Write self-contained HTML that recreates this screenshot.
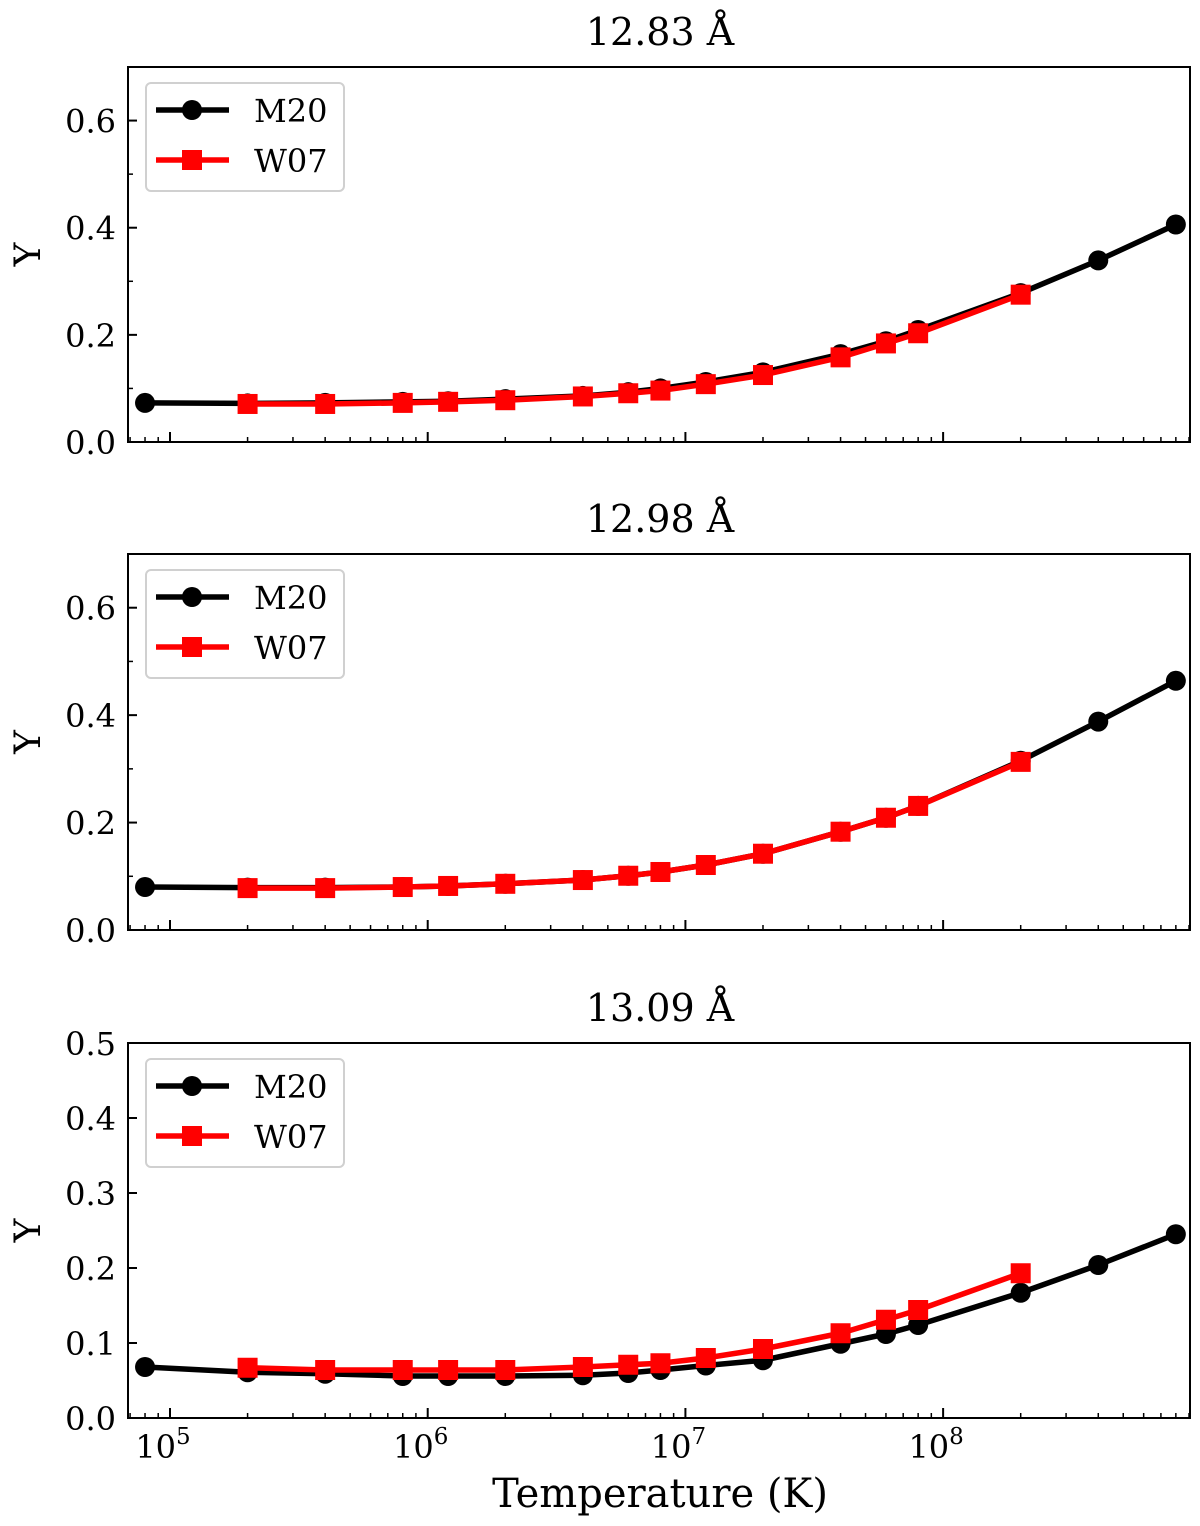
<!DOCTYPE html>
<html><head><meta charset="utf-8"><style>
html,body{margin:0;padding:0;background:#fff;}
svg{display:block;font-family:"DejaVu Serif","Liberation Serif",serif;}
</style></head><body>
<svg id="chart" width="1200" height="1526" viewBox="0 0 1200 1526" xmlns="http://www.w3.org/2000/svg"></svg>
<script>
const tempM20 = [8e4,2e5,4e5,8e5,1.2e6,2e6,4e6,6e6,8e6,1.2e7,2e7,4e7,6e7,8e7,2e8,4e8,8e8];
const tempW07 = [2e5,4e5,8e5,1.2e6,2e6,4e6,6e6,8e6,1.2e7,2e7,4e7,6e7,8e7,2e8];
const titles = ["12.83 Å","12.98 Å","13.09 Å"];
const m20_p1 = [0.073,0.072,0.073,0.075,0.076,0.080,0.086,0.093,0.100,0.112,0.130,0.164,0.188,0.209,0.278,0.339,0.406];
const w07_p1 = [0.071,0.071,0.073,0.075,0.078,0.085,0.091,0.096,0.108,0.125,0.158,0.184,0.203,0.275];
const m20_p2 = [0.080,0.079,0.079,0.080,0.082,0.086,0.093,0.101,0.108,0.121,0.142,0.183,0.209,0.231,0.315,0.388,0.464];
const w07_p2 = [0.078,0.078,0.080,0.082,0.086,0.093,0.101,0.108,0.121,0.142,0.183,0.209,0.231,0.313];
const m20_p3 = [0.068,0.061,0.059,0.056,0.056,0.056,0.057,0.060,0.064,0.070,0.077,0.099,0.112,0.124,0.167,0.204,0.245];
const w07_p3 = [0.067,0.064,0.064,0.064,0.064,0.068,0.071,0.073,0.080,0.092,0.113,0.131,0.144,0.193];
const yTicks1 = [0,0.2,0.4,0.6];
const yTicks3 = [0,0.1,0.2,0.3,0.4,0.5];
const xTickExp = [5,6,7,8];

const NS="http://www.w3.org/2000/svg";
const svg=document.getElementById('chart');
function mk(tag,attrs,parent){const e=document.createElementNS(NS,tag);for(const k in attrs)e.setAttribute(k,attrs[k]);(parent||svg).appendChild(e);return e;}
const L=128,R=1190;
const xMin=4.837,xMax=8.958;
function X(v){return L+(Math.log10(v)-xMin)/(xMax-xMin)*(R-L);}
const panels=[
 {top:67,bot:442,ymax:0.7,ticks:yTicks1,minor:[0.1,0.3,0.5],m:m20_p1,w:w07_p1},
 {top:554,bot:930,ymax:0.7,ticks:yTicks1,minor:[0.1,0.3,0.5],m:m20_p2,w:w07_p2},
 {top:1043,bot:1418,ymax:0.5,ticks:yTicks3,minor:[],m:m20_p3,w:w07_p3}
];
panels.forEach((p,i)=>{
 const g=mk('g',{});
 
 
 const Y=v=>p.bot-v/p.ymax*(p.bot-p.top);
 const t=mk('text',{x:660,y:p.top-22,'font-size':38,'text-anchor':'middle'},g);t.textContent=titles[i];
 
 
 p.ticks.forEach(v=>{
  mk('line',{x1:L,x2:L+9,y1:Y(v),y2:Y(v),stroke:'#000','stroke-width':2},g);
  const tl=mk('text',{x:L-12,y:Y(v)+12,'font-size':32,'text-anchor':'end'},g);tl.textContent=v.toFixed(1);
  
  
 });
 p.minor.forEach(v=>mk('line',{x1:L,x2:L+5,y1:Y(v),y2:Y(v),stroke:'#000','stroke-width':1.5},g));
 for(let e=4;e<=8;e++)for(let k=1;k<10;k++){const v=k*Math.pow(10,e);const lv=Math.log10(v);if(lv<xMin||lv>xMax)continue;
  const len=k===1?10:5;mk('line',{x1:X(v),x2:X(v),y1:p.bot,y2:p.bot-len,stroke:'#000','stroke-width':k===1?2:1.5},g);}
 const yl=mk('text',{x:0,y:0,'font-size':36,'text-anchor':'middle',transform:`translate(40,${(p.top+p.bot)/2}) rotate(-90)`},g);yl.textContent='Y';
 
 
 const ptsM=tempM20.map((t,j)=>X(t)+','+Y(p.m[j])).join(' ');
 const lm=mk('polyline',{points:ptsM,fill:'none',stroke:'#000','stroke-width':5.5,'stroke-linejoin':'round'},g);
 
 
 tempM20.forEach((t,j)=>{const c=mk('circle',{cx:X(t),cy:Y(p.m[j]),r:10,fill:'#000'},g);
  
  });
 const ptsW=tempW07.map((t,j)=>X(t)+','+Y(p.w[j])).join(' ');
 const lw=mk('polyline',{points:ptsW,fill:'none',stroke:'#ff0000','stroke-width':5.5,'stroke-linejoin':'round'},g);
 
 
 tempW07.forEach((t,j)=>{const s=mk('rect',{x:X(t)-10,y:Y(p.w[j])-10,width:20,height:20,fill:'#ff0000'},g);
  
  });
 const fr=mk('rect',{x:L,y:p.top,width:R-L,height:p.bot-p.top,fill:'none',stroke:'#000','stroke-width':2},g);
 
 
 const lg=mk('g',{},g);
 
 
 const ly=p.top+16;
 mk('rect',{x:146,y:ly,width:198,height:108,rx:5,fill:'#fff','fill-opacity':0.8,stroke:'#d0d0d0','stroke-width':2},lg);
 mk('line',{x1:156,x2:229,y1:ly+27,y2:ly+27,stroke:'#000','stroke-width':5.5},lg);
 mk('circle',{cx:192,cy:ly+27,r:10,fill:'#000'},lg);
 const t1=mk('text',{x:254,y:ly+39,'font-size':32},lg);t1.textContent='M20';
 
 
 mk('line',{x1:156,x2:229,y1:ly+77,y2:ly+77,stroke:'#ff0000','stroke-width':5.5},lg);
 mk('rect',{x:182,y:ly+67,width:20,height:20,fill:'#ff0000'},lg);
 const t2=mk('text',{x:254,y:ly+89,'font-size':32},lg);t2.textContent='W07';
 
 
 if(i===2){
  xTickExp.forEach(e=>{const tx=mk('text',{x:X(Math.pow(10,e))-7,y:p.bot+40,'font-size':32,'text-anchor':'middle'},g);
   tx.innerHTML='10<tspan dy="-14" font-size="23">'+e+'</tspan>';
   
   });
  const xt=mk('text',{x:660,y:1507,'font-size':40,'text-anchor':'middle'},g);xt.textContent='Temperature (K)';
  
  
 }
});
</script>
</body></html>
